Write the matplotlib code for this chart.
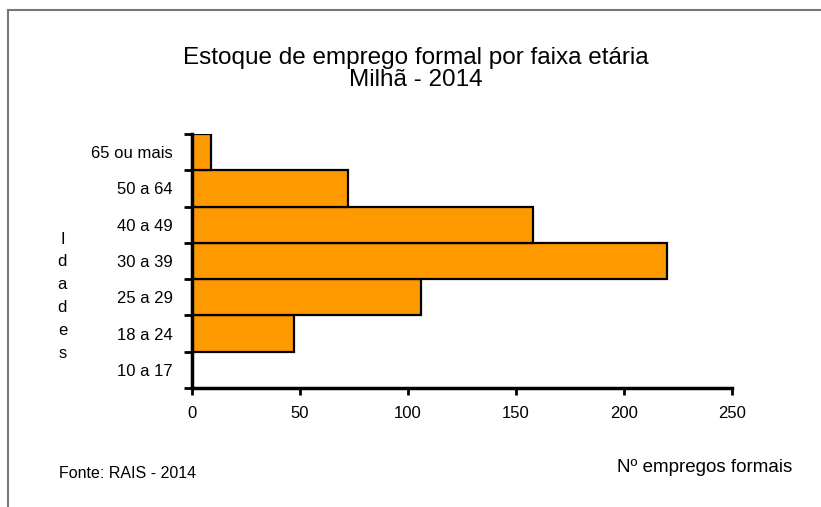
import matplotlib.pyplot as plt
from matplotlib.lines import Line2D

# data
faixas = ['10 a 17', '18 a 24', '25 a 29', '30 a 39', '40 a 49', '50 a 64', '65 ou mais']
empregos = [0, 47, 106, 220, 158, 72, 9]

plt.rcParams['font.family'] = ['Liberation Sans', 'DejaVu Sans']

fig = plt.figure(figsize=(8.21, 5.07), dpi=100)
ax = fig.add_axes([0.2339, 0.2347, 0.6577, 0.5010])

pos = list(range(len(faixas)))
ax.barh(pos, empregos, height=1.0, color='#FF9900', edgecolor='black', linewidth=1.6)

ax.set_xlim(0, 250)
ax.set_ylim(-0.5, len(faixas) - 0.5)
ax.set_xticks([0, 50, 100, 150, 200, 250])
ax.set_yticks([p + 0.5 for p in [-1] + pos])
ax.set_yticklabels([])
ax.set_yticks(pos, minor=True)
ax.set_yticklabels(faixas, minor=True)
ax.tick_params(axis='y', which='major', length=6, width=2, direction='out')
ax.tick_params(axis='y', which='minor', length=0, pad=14, labelsize=12)
ax.tick_params(axis='x', length=5, width=2, direction='out', labelsize=12, pad=8)

for s in ['top', 'right']:
    ax.spines[s].set_visible(False)
for s in ['left', 'bottom']:
    ax.spines[s].set_linewidth(2.5)

fig.text(0.507, 0.864, 'Estoque de emprego formal por faixa etária\nMilhã - 2014',
         ha='center', va='center', fontsize=17.5, linespacing=1.05)
fig.text(0.076, 0.416, 'I\nd\na\nd\ne\ns', ha='center', va='center', fontsize=12, linespacing=1.65)
fig.text(0.072, 0.067, 'Fonte: RAIS - 2014', ha='left', va='center', fontsize=11.5)
fig.text(0.965, 0.077, 'Nº empregos formais', ha='right', va='center', fontsize=13.5)

# frame
fig.add_artist(Line2D([0.0098, 0.0098], [0, 0.980], color='#777777', linewidth=1.5))
fig.add_artist(Line2D([0.0098, 1.0], [0.980, 0.980], color='#777777', linewidth=1.5))

fig.savefig('out.png', dpi=100)
